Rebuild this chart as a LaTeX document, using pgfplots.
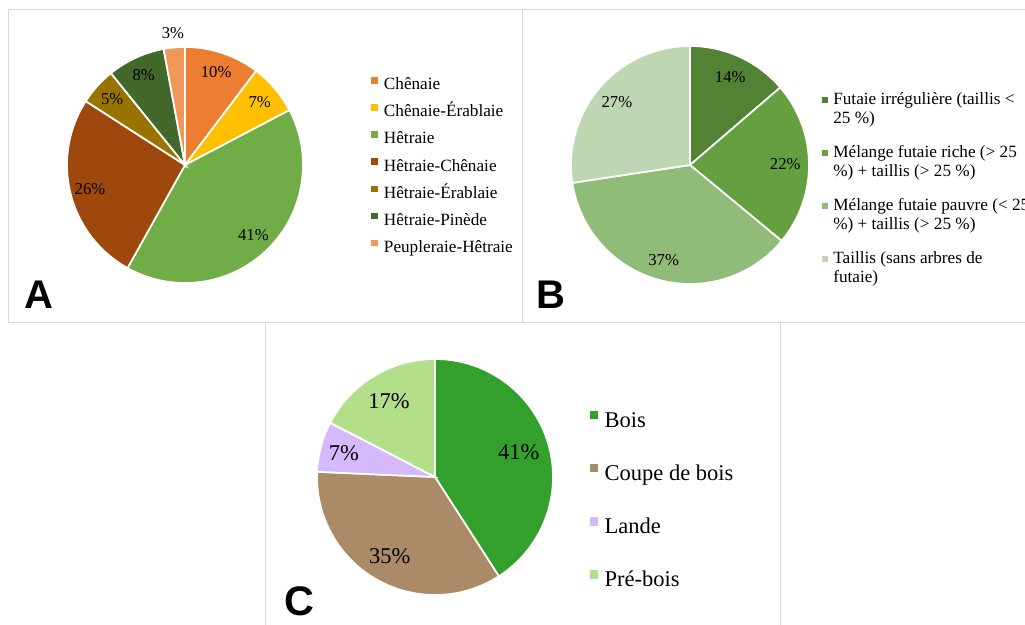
\documentclass[border=0pt]{standalone}
\usepackage{pgfplots}
\pgfplotsset{compat=1.18}
\usepackage{pgfplotstable}
\usepackage{etoolbox}
\usepackage{fontspec}
\setmainfont{Liberation Serif}
\newfontfamily\panelfont{Liberation Sans}

% colours
\definecolor{cA1}{HTML}{ED7D31}
\definecolor{cA2}{HTML}{FFC000}
\definecolor{cA3}{HTML}{70AD47}
\definecolor{cA4}{HTML}{9E480E}
\definecolor{cA5}{HTML}{997300}
\definecolor{cA6}{HTML}{43682B}
\definecolor{cA7}{HTML}{F1975A}
\definecolor{cB1}{HTML}{548235}
\definecolor{cB2}{HTML}{64A03F}
\definecolor{cB3}{HTML}{90BB78}
\definecolor{cB4}{HTML}{BED6B2}
\definecolor{cC1}{HTML}{34A02C}
\definecolor{cC2}{HTML}{AB8A68}
\definecolor{cC3}{HTML}{D6B9FA}
\definecolor{cC4}{HTML}{B3DF8B}
\definecolor{frame}{HTML}{D9D9D9}

% share (%), label distance (fraction of radius), colour
\pgfplotstableread{
value lf  color
10.3  0.83 cA1
7.0   0.83 cA2
40.8  0.83 cA3
26.0  0.83 cA4
5.1   0.83 cA5
7.9   0.84 cA6
2.9   1.12 cA7
}\dataA
\pgfplotstableread{
value lf  color
13.7  0.81 cB1
22.3  0.80 cB2
36.6  0.83 cB3
27.4  0.81 cB4
}\dataB
\pgfplotstableread{
value lf  color
40.9  0.74 cC1
34.8  0.77 cC2
6.9   0.80 cC3
17.4  0.75 cC4
}\dataC

\tikzset{
  lblA/.style={font=\fontsize{12.5}{15}\selectfont, inner sep=0pt},
  lblC/.style={font=\fontsize{16.9}{20}\selectfont, inner sep=0pt},
}

% build wedge and label commands (pixel coords, y downwards)
% #1 table, #2 cx, #3 cy, #4 radius, #5 label style
\newcommand\buildpie[5]{%
  \gdef\piecmds{}\gdef\labcmds{}%
  \def\cum{0}%
  \pgfplotstablegetrowsof{#1}%
  \pgfmathtruncatemacro\N{\pgfplotsretval-1}%
  \pgfplotsforeachungrouped \i in {0,...,\N}{%
    \pgfplotstablegetelem{\i}{value}\of{#1}\let\v\pgfplotsretval
    \pgfplotstablegetelem{\i}{lf}\of{#1}\let\lf\pgfplotsretval
    \pgfplotstablegetelem{\i}{color}\of{#1}\let\col\pgfplotsretval
    \pgfmathsetmacro\s{90-3.6*\cum}%
    \pgfmathsetmacro\e{90-3.6*(\cum+\v)}%
    \pgfmathsetmacro\m{(\s+\e)/2}%
    \pgfmathsetmacro\sx{#2+#4*cos(\s)}%
    \pgfmathsetmacro\sy{#3-#4*sin(\s)}%
    \pgfmathsetmacro\lx{#2+\lf*#4*cos(\m)}%
    \pgfmathsetmacro\ly{#3-\lf*#4*sin(\m)}%
    \pgfmathtruncatemacro\lab{round(\v)}%
    \pgfmathsetmacro\cum{\cum+\v}%
    \xappto\piecmds{\noexpand\filldraw[fill=\col,draw=white,line width=1.3pt]
      (axis cs:#2,#3) -- (axis cs:\sx,\sy)
      arc[start angle=\s,end angle=\e,radius=#4*0.75pt] -- cycle;}%
    \xappto\labcmds{\noexpand\node[#5] at (axis cs:\lx,\ly) {\lab\noexpand\%};}%
  }%
}

\pgfplotsset{
  panel/.style={
    x=0.75pt, y=0.75pt, y dir=reverse,
    xmin=0, xmax=1025, ymin=0, ymax=625,
    hide axis, clip=false,
    at={(0,0)}, anchor=south west,
  },
}

\begin{document}
\begin{tikzpicture}
\path[use as bounding box] (0,0) rectangle (768.75pt,468.75pt);

% ---------------- A ----------------
\begin{axis}[panel,
  legend image code/.code={\fill[#1,draw=none] (0pt,1.5pt) rectangle (5pt,6.5pt);},
  legend cell align=left,
  legend style={at={(0.36195,0.87728)}, anchor=north west,
    draw=none, fill=none, inner sep=0pt, row sep=7.85pt, column sep=4.5pt,
    font=\fontsize{12.9}{15}\selectfont,
    nodes={inner sep=0pt, text height=9pt, text depth=3pt}},
]
\draw[frame, line width=0.75pt] (axis cs:8,10) rectangle (axis cs:522,322);
\buildpie{\dataA}{185}{165}{118}{lblA}
\piecmds
\labcmds
\node[anchor=base west, inner sep=0pt, font=\panelfont\bfseries\fontsize{30}{30}\selectfont]
  at (axis cs:24,308) {A};
\addlegendimage{fill=cA1}\addlegendentry{Chênaie}
\addlegendimage{fill=cA2}\addlegendentry{Chênaie-Érablaie}
\addlegendimage{fill=cA3}\addlegendentry{Hêtraie}
\addlegendimage{fill=cA4}\addlegendentry{Hêtraie-Chênaie}
\addlegendimage{fill=cA5}\addlegendentry{Hêtraie-Érablaie}
\addlegendimage{fill=cA6}\addlegendentry{Hêtraie-Pinède}
\addlegendimage{fill=cA7}\addlegendentry{Peupleraie-Hêtraie}
\end{axis}

% ---------------- B ----------------
\begin{axis}[panel,
  legend image code/.code={\fill[#1,draw=none] (0pt,4.6pt) rectangle (4.5pt,9.1pt);},
  legend cell align=left,
  legend style={at={(0.80166,0.85300)}, anchor=north west,
    draw=none, fill=none, inner sep=0pt, row sep=14.8pt, column sep=4pt,
    font=\fontsize{12.9}{14.5}\selectfont,
    nodes={inner sep=0pt, align=left}},
]
\draw[frame, line width=0.75pt] (axis cs:522,10) rectangle (axis cs:1040,322);
\buildpie{\dataB}{690}{165}{119}{lblA}
\piecmds
\labcmds
\node[anchor=base west, inner sep=0pt, font=\panelfont\bfseries\fontsize{30}{30}\selectfont]
  at (axis cs:536,308) {B};
\addlegendimage{fill=cB1}\addlegendentry{Futaie irrégulière (taillis <\\25 \%)}
\addlegendimage{fill=cB2}\addlegendentry{Mélange futaie riche (> 25\\\%) + taillis (> 25 \%)}
\addlegendimage{fill=cB3}\addlegendentry{Mélange futaie pauvre (< 25\\\%) + taillis (> 25 \%)}
\addlegendimage{fill=cB4}\addlegendentry{Taillis (sans arbres de\\futaie)}
\end{axis}

% ---------------- C ----------------
\begin{axis}[panel,
  legend image code/.code={\fill[#1,draw=none] (0pt,2.4pt) rectangle (6.25pt,8.65pt);},
  legend cell align=left,
  legend style={at={(0.57493,0.34288)}, anchor=north west,
    draw=none, fill=none, inner sep=0pt, row sep=23.45pt, column sep=5pt,
    font=\fontsize{16.9}{20}\selectfont,
    nodes={inner sep=0pt, text height=11.5pt, text depth=4pt}},
]
\draw[frame, line width=0.75pt] (axis cs:265,322) rectangle (axis cs:780,640);
\buildpie{\dataC}{435}{477}{118}{lblC}
\piecmds
\labcmds
\node[anchor=base west, inner sep=0pt, font=\panelfont\bfseries\fontsize{31}{31}\selectfont]
  at (axis cs:284,615) {C};
\addlegendimage{fill=cC1}\addlegendentry{Bois}
\addlegendimage{fill=cC2}\addlegendentry{Coupe de bois}
\addlegendimage{fill=cC3}\addlegendentry{Lande}
\addlegendimage{fill=cC4}\addlegendentry{Pré-bois}
\end{axis}
\end{tikzpicture}
\end{document}
